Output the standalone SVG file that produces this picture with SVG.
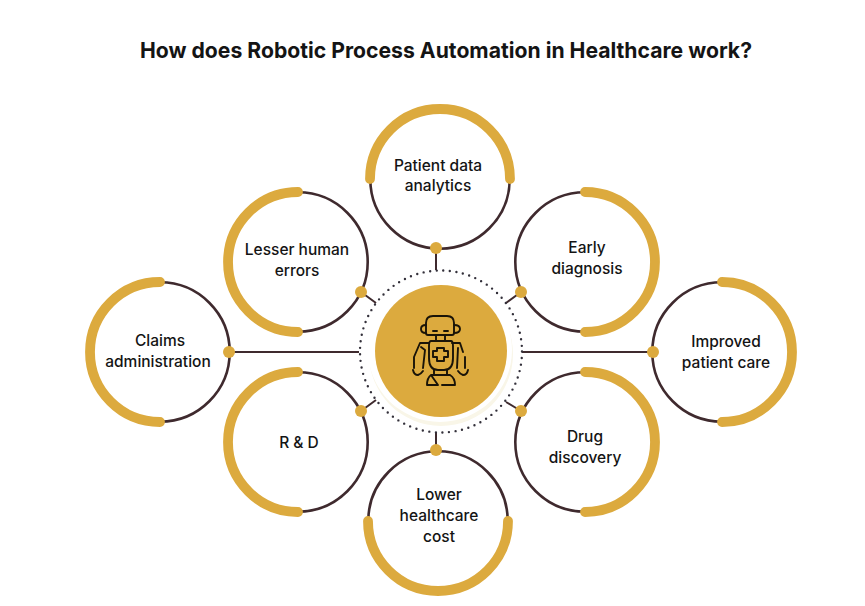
<svg xmlns="http://www.w3.org/2000/svg" width="865" height="606" viewBox="0 0 865 606">
<style>
.ring{fill:#fff;stroke:#3f2a2e;stroke-width:2.6}
.gold{fill:none;stroke:#dcaa3e;stroke-width:9.8;stroke-linecap:round}
.dot{fill:#dcaa3e}
.lbl{font-family:"Inter","Liberation Sans",sans-serif;font-size:15.5px;font-weight:500;fill:#141414;text-anchor:middle}
.title{font-family:"Inter","Liberation Sans",sans-serif;font-size:22px;font-weight:700;fill:#141414}
.conn{fill:none;stroke:#3f2a2e;stroke-width:2}
.ic{fill:none;stroke:#1a1408;stroke-width:1.9;stroke-linecap:round;stroke-linejoin:round}
</style>
<rect width="865" height="606" fill="#fff"/>
<text class="title" x="140" y="58" textLength="612" lengthAdjust="spacingAndGlyphs">How does Robotic Process Automation in Healthcare work?</text>
<g id="connectors">
<path class="conn" d="M436 250V270M436 433V450M229 352H359M653 352H522M361 292L376 303M521 292L506 303M361 411L376 400M521 411L506 402"/>
</g>
<g id="hub">
<circle cx="441" cy="354" r="72" fill="#f9f6e8"/>
<circle cx="440" cy="350" r="72" fill="#fff"/>
<circle cx="441" cy="351.5" r="81" fill="none" stroke="#33303a" stroke-width="2.4" stroke-linecap="round" stroke-dasharray="0 6.61"/>
<circle cx="441" cy="351" r="66" fill="#dcaa3e"/>
<g id="robot" class="ic">
<path d="M426 333V323Q426 316 433 316H447Q454 316 454 323V333Q454 335 452 335H428Q426 335 426 333Z"/>
<path d="M426 325Q421 325 421 329Q421 333 426 333M454 325Q460 325 460 329Q460 333 454 333"/>
<path d="M433 331H437M444 331H448"/>
<path d="M436 335V341M445 335V341"/>
<path d="M431 341H451Q453 341 453 346V358Q453 370 444 370H438Q429 370 429 358V346Q429 341 431 341Z"/>
<path d="M437 348H444V351H448V357H444V361H437V357H433V351H437Z"/>
<path d="M429 343H420L414 357V368M452 343H460L463 352"/>
<path d="M421 347L425 350L423 368M458 348L457 368M465 357V368"/>
<path d="M413 370Q414 375 418 375Q421 374 423 371M468 370Q467 375 463 375Q460 374 458 371"/>
<path d="M434 370V375M447 370V375"/>
<path d="M431 375H450Q455 378 455 385H442M438 385H427Q427 378 431 375Z"/>
</g>
</g>
<g id="n-patient-data"><circle class="ring" cx="440" cy="179" r="69.7"/><path class="gold" d="M370 179A70 70 0 0 1 510 179"/><circle class="dot" cx="436" cy="248" r="6"/><text class="lbl" x="438" y="171">Patient data</text><text class="lbl" x="438" y="191">analytics</text></g>
<g id="n-lesser"><circle class="ring" cx="298" cy="262" r="69.7"/><path class="gold" d="M298 192A70 70 0 0 0 298 332"/><circle class="dot" cx="361" cy="292" r="6"/><text class="lbl" x="297" y="255">Lesser human</text><text class="lbl" x="297" y="276">errors</text></g>
<g id="n-claims"><circle class="ring" cx="160" cy="352" r="69.7"/><path class="gold" d="M160 282A70 70 0 0 0 160 422"/><circle class="dot" cx="229" cy="352" r="6"/><text class="lbl" x="160" y="346">Claims</text><text class="lbl" x="158" y="367">administration</text></g>
<g id="n-rd"><circle class="ring" cx="298" cy="442" r="69.7"/><path class="gold" d="M298 372A70 70 0 0 0 298 512"/><circle class="dot" cx="361" cy="411" r="6"/><text class="lbl" x="299" y="448">R &amp; D</text></g>
<g id="n-lower"><circle class="ring" cx="438" cy="521" r="69.7"/><path class="gold" d="M368 521A70 70 0 0 0 508 521"/><circle class="dot" cx="436" cy="450" r="6"/><text class="lbl" x="439" y="500">Lower</text><text class="lbl" x="439" y="521">healthcare</text><text class="lbl" x="439" y="542">cost</text></g>
<g id="n-early"><circle class="ring" cx="585" cy="262" r="69.7"/><path class="gold" d="M585 192A70 70 0 0 1 585 332"/><circle class="dot" cx="521" cy="292" r="6"/><text class="lbl" x="587" y="253">Early</text><text class="lbl" x="587" y="274">diagnosis</text></g>
<g id="n-improved"><circle class="ring" cx="722" cy="352" r="69.7"/><path class="gold" d="M722 282A70 70 0 0 1 722 422"/><circle class="dot" cx="653" cy="352" r="6"/><text class="lbl" x="726" y="347">Improved</text><text class="lbl" x="726" y="368">patient care</text></g>
<g id="n-drug"><circle class="ring" cx="585" cy="442" r="69.7"/><path class="gold" d="M585 372A70 70 0 0 1 585 512"/><circle class="dot" cx="521" cy="411" r="6"/><text class="lbl" x="585" y="442">Drug</text><text class="lbl" x="585" y="463">discovery</text></g>
</svg>
